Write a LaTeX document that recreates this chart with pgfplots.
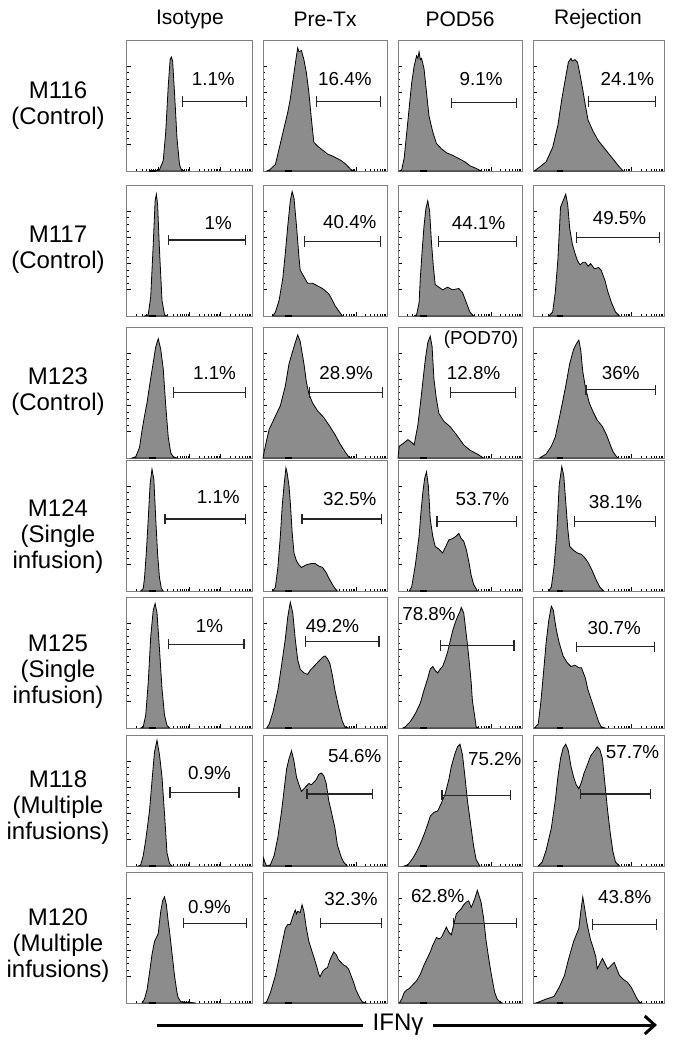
\documentclass[border=0pt]{standalone}
\usepackage{fontspec}
\setmainfont{Liberation Sans}
\usepackage{pgfplots}
\pgfplotsset{compat=1.18}
\usetikzlibrary{arrows.meta}
\definecolor{histgray}{RGB}{140,140,140}
\newcommand\pctfont{\fontsize{9.4}{11}\selectfont}
\newcommand\titlefont{\fontsize{10.5}{12}\selectfont}
\newcommand\rowfont{\fontsize{12}{13}\selectfont}
\pgfplotsset{hist/.style={scale only axis, height=65.5pt, anchor=north west,
  xmin=0, xmax=100, ymin=0, ymax=100, clip=false,
  axis line style={black!50, line width=0.5pt},
  xtick={25,50,75},
  minor xtick={7.5,11.9,15.1,17.5,19.5,21.1,22.6,23.9,32.5,36.9,40.1,42.5,44.5,46.1,47.6,48.9,57.5,61.9,65.1,67.5,69.5,71.1,72.6,73.9,82.5,86.9,90.1,92.5,94.5,96.1,97.6,98.9},
  ytick={20,40,60,80}, minor y tick num=3,
  xticklabels={}, yticklabels={},
  tick pos=left, tick align=inside,
  major tick length=2pt, minor tick length=1pt,
  tick style={black, line width=0.35pt}}}
% #1 x, #2 y, #3 width, #4 coords, #5 gate from, #6 gate to, #7 gate y, #8 text pos, #9 text
\newcommand\panel[9]{%
  \begin{axis}[hist, at={(#1pt,-#2pt)}, width=#3pt]
  \addplot[fill=histgray, draw=black, line width=0.4pt] coordinates {#4} \closedcycle;
  \addplot[black!85, line width=0.55pt, |-|] coordinates {(#5,#7) (#6,#7)};
  \node[font=\pctfont] at (axis cs:#8) {#9};
  \draw[black, line width=1.2pt] (axis cs:18,0) -- (axis cs:23,0);
  \end{axis}}
\begin{document}
\begin{tikzpicture}
\path[use as bounding box] (0,0) rectangle (338.5pt,-523pt);
% titles
\node[font=\titlefont] at (95pt,-9.5pt) {Isotype};
\node[font=\titlefont] at (162.5pt,-9.5pt) {Pre-Tx};
\node[font=\titlefont] at (230pt,-9.5pt) {POD56};
\node[font=\titlefont] at (299pt,-9.5pt) {Rejection};
% row labels
\node[align=center, font=\rowfont] at (29pt,-52.75pt) {M116\\(Control)};
\node[align=center, font=\rowfont] at (29pt,-125pt) {M117\\(Control)};
\node[align=center, font=\rowfont] at (29pt,-196pt) {M123\\(Control)};
\node[align=center, font=\rowfont] at (29pt,-268.5pt) {M124\\(Single\\infusion)};
\node[align=center, font=\rowfont] at (29pt,-336pt) {M125\\(Single\\infusion)};
\node[align=center, font=\rowfont] at (29pt,-404pt) {M118\\(Multiple\\infusions)};
\node[align=center, font=\rowfont] at (29pt,-473pt) {M120\\(Multiple\\infusions)};
% ===== Row 1 =====
\panel{63.5}{20}{62.5}{(22,0)(26,1)(29,8)(31,30)(33,65)(34.5,85)(35.5,87)(36.5,84)(38,60)(40,25)(42,5)(43.5,1)(46,0)}{44}{96}{53}{69,70}{1.1\%}
\panel{131.5}{20}{62}{(3,0)(5.5,1)(10,5)(16,29)(20,45)(22,55)(25,75)(27,88)(28,94)(29,91)(31,92)(33,85)(35,75)(37,60)(39,40)(41,22)(44,19)(48,16)(52,13)(57,11)(63,8)(67,5)(71,1)(74,0)}{43}{95}{53}{66,70}{16.4\%}
\panel{199}{20}{62}{(1,0)(3,1)(5,10)(7,29)(9,48)(11,67)(13,80)(15,88)(16,86)(17,91)(18,85)(19,86)(21,78)(23,60)(25,42)(28,30)(31,21)(35,17)(39,14)(44,12)(50,9)(54,7)(58,4)(63,2)(67,0)}{43}{96}{52}{67,70}{9.1\%}
\panel{266.5}{20}{65.5}{(1,0)(5,3)(10,7)(15,18)(19,35)(22,55)(25,72)(27,83)(29,86)(30,84)(32,85)(34,83)(36,73)(38,62)(40,50)(42,39)(46,30)(50,23)(54,18)(58,13)(62,8)(66,3)(69,0)}{42}{94}{53}{72,70}{24.1\%}
% ===== Row 2 =====
\panel{63.5}{92.5}{62.5}{(14,0)(17,1)(19,15)(21,55)(22.5,88)(23.5,93)(24.5,85)(26,50)(28,12)(30,1)(32,0)}{33}{95}{58}{73,71}{1\%}
\panel{131.5}{92.5}{62}{(8,0)(10,3)(13,12)(16,29)(18,48)(20,69)(22,88)(23.5,95)(25,90)(27,69)(29,45)(30,35)(33,30)(36,25)(40,25)(44,23)(48,21)(53,17)(56,12)(58,8)(61,4)(64,0)}{33}{95}{57}{70,72}{40.4\%}
\panel{199}{92.5}{62}{(13,0)(15,1)(17,10)(18,29)(19.5,50)(21,69)(22.5,82)(24,88)(25.5,80)(27,56)(28.5,38)(30,24)(33,22)(36,20)(40,22)(44,20)(49,21)(52,18)(54,13)(56,8)(58,3)(61,0)}{32}{96}{57}{65,71}{44.1\%}
\panel{266.5}{92.5}{65.5}{(12,0)(15,3)(17,18)(19,43)(21,83)(23,88)(25,93)(26.5,85)(28,67)(30,55)(32,48)(34,42)(36,39)(38,41)(40,41)(42,38)(44,40)(47,36)(50,37)(52,35)(55,27)(57,19)(60,10)(63,3)(66,0)}{33}{97}{60}{66,75}{49.5\%}
% ===== Row 3 =====
\panel{63.5}{163.5}{62.5}{(4,0)(7,1)(10,8)(12,21)(14,32)(16,42)(18,55)(21,73)(23,85)(25,91)(27,83)(29,68)(31,40)(33,16)(35,4)(37,1)(40,0)}{37}{95}{50}{70,65}{1.1\%}
\panel{131.5}{163.5}{62}{(0,0)(1,5)(3,14)(5,22)(9,30)(14,40)(18,55)(21,72)(25,85)(28,94)(30,89)(33,72)(35,58)(37,49)(40,42)(44,36)(49,31)(54,24)(58,18)(62,11)(66,5)(69,1)(71,0)}{37}{97}{50}{67,65}{28.9\%}
\panel{199}{163.5}{62}{(0,0)(1,9)(4,11)(8,14)(11,12)(13,10)(16,25)(18,41)(20,58)(22,75)(24,88)(26,93)(27.5,85)(29,60)(31,45)(33,34)(37,28)(42,24)(47,18)(53,10)(58,6)(64,3)(69,0)}{42}{95}{50}{61,65}{12.8\%}
\panel{266.5}{163.5}{65.5}{(5,0)(10,3)(14,9)(17,16)(21,35)(25,55)(28,72)(31,83)(33,87)(35,90)(36.5,82)(38,66)(40,54)(43,42)(46,35)(49,29)(53,24)(56,18)(59,10)(61,5)(63,2)(65,0)}{40}{94}{52}{67,65}{36\%}
\node[font=\pctfont] at (240.5pt,-170pt) {(POD70)};
% ===== Row 4 =====
\panel{63.5}{230}{62.5}{(11,0)(13,2)(14,10)(15.5,30)(17,55)(18.5,82)(20,93)(21.5,85)(23,55)(24.5,28)(26,10)(27.5,2)(29,0)}{30}{95}{55}{73,72}{1.1\%}
\panel{131.5}{230}{62}{(8,0)(10,3)(12,18)(14,42)(15.5,65)(17,81)(18.5,94)(19.5,90)(21,80)(22,68)(23.5,45)(25,29)(27,23)(29,20)(31,18)(35,20)(39,21)(42,21)(45,19)(48,18)(51,14)(53,10)(56,5)(58,2)(60,0)}{31}{96}{55}{70,70}{32.5\%}
\panel{199}{230}{62}{(9,0)(11,3)(14,20)(17,42)(18.5,60)(20,75)(21.5,86)(23,91)(24.5,80)(26,55)(28,42)(30,34)(33,32)(36,29)(38,33)(41,39)(44,40)(47,42)(49,44)(51,40)(53,38)(55,32)(57,23)(59,12)(61,5)(64,0)}{31}{96}{53}{68,70}{53.7\%}
\panel{266.5}{230}{65.5}{(12,0)(14,3)(16,18)(18,42)(20,81)(22,95)(23.5,88)(25,68)(26.5,48)(28,34)(31,31)(34,29)(37,28)(39,26)(42,22)(45,16)(48,9)(51,3)(54,0)}{31}{94}{53}{63,68}{38.1\%}
% ===== Row 5 =====
\panel{63.5}{298.5}{62.5}{(11,0)(13,1)(15,10)(17,35)(19,70)(21,90)(22.5,95)(24,88)(26,60)(28,30)(30,10)(32,2)(34,0)}{33}{94}{64}{66,78}{1\%}
\panel{131.5}{298.5}{62}{(3,0)(5,3)(8,12)(12,29)(15,48)(18,68)(20,85)(22,96)(24,88)(26,68)(28,52)(30,45)(33,42)(36,41)(38,44)(41,47)(45,51)(48,54)(50,55)(52,53)(54,49)(56,40)(58,29)(61,16)(64,5)(66,1)(69,0)}{34}{94}{66}{56,78}{49.2\%}
\panel{199}{298.5}{62}{(4,0)(6,1)(10,5)(14,11)(18,19)(21,29)(24,38)(26,45)(28,47)(30,44)(32,42)(34,45)(36,47)(38,52)(40,58)(42,66)(44,74)(46,80)(48,85)(50,89)(51,92)(53,88)(55,72)(57,55)(59,35)(60,21)(62,8)(63,1)(65,0)}{34}{94}{63}{25,87}{78.8\%}
\panel{266.5}{298.5}{65.5}{(1,0)(4,3)(6,20)(8,42)(10,65)(12,82)(14,93)(15.5,90)(17,80)(18,74)(20,65)(23,55)(26,50)(29,47)(32,48)(35,46)(37,46)(40,38)(42,29)(45,20)(48,11)(50,5)(52,1)(55,0)}{33}{93}{62}{62,76}{30.7\%}
% ===== Row 6 =====
\panel{63.5}{367.5}{62.5}{(9,0)(11,1)(13,8)(15,20)(18,42)(20,65)(22,87)(24,96)(26,85)(28,68)(30,40)(32,10)(34,2)(36,0)}{34}{90}{56}{66,71}{0.9\%}
\panel{131.5}{367.5}{62}{(0,0)(0.5,6)(1.5,3)(3,0)(6,1)(9,8)(12,22)(15,42)(17,58)(19,74)(21,82)(23,88)(25,80)(27,68)(29,62)(31,57)(33,59)(35,61)(37,63)(39,62)(41,64)(43,66)(45,70)(47,71)(49,69)(51,63)(53,50)(55,42)(58,29)(60,16)(63,7)(65,3)(68,0)}{35}{89}{55}{74,84}{54.6\%}
\panel{199}{367.5}{62}{(5,0)(8,1)(12,6)(15,11)(18,17)(21,24)(24,32)(26,38)(29,41)(32,42)(35,48)(38,55)(41,66)(43,76)(46,86)(48,91)(50,93)(52,85)(54,68)(56,50)(59,29)(61,15)(63,5)(66,0)}{35}{91}{54}{78,82}{75.2\%}
\panel{266.5}{367.5}{65.5}{(4,0)(7,3)(10,12)(14,29)(17,50)(19,68)(21,82)(23,90)(25,93)(27,88)(29,76)(31,68)(33,62)(35,59)(37,64)(39,71)(41,76)(44,84)(47,88)(49,91)(51,89)(53,82)(55,62)(57,42)(59,25)(61,11)(63,3)(66,0)}{36}{90}{55}{76,87}{57.7\%}
% ===== Row 7 =====
\panel{63.5}{436}{62.5}{(12,0)(14,3)(16,10)(18,23)(20,37)(22,47)(24,51)(25,53)(26,62)(27,70)(28.5,78)(30,81)(31.5,75)(33,62)(34,55)(36,38)(38,21)(40,8)(41,4)(43,1)(50,0.5)(55,0)}{45}{96}{61}{66,73}{0.9\%}
\panel{131.5}{436}{62}{(1,0)(3,1)(6,8)(10,21)(12,30)(14,39)(16,48)(18,57)(20,60)(22,60)(24,66)(26,71)(27,68)(28,70)(30,69)(31.5,75)(33,70)(35,57)(37,47)(40,38)(43,29)(45,22)(46,20)(48,24)(50,26)(52,27)(54,33)(57,39)(59,37)(61,33)(63,31)(65,29)(67,28)(69,26)(71,21)(73,16)(75,10)(78,4)(80,1)(83,0)}{46}{96}{61}{71,79}{32.3\%}
\panel{199}{436}{62}{(1,0)(3,3)(5,8)(7,10)(9,11)(12,14)(15,17)(18,22)(21,29)(24,35)(26,39)(28,44)(30,48)(31,50)(33,49)(35,50)(37,54)(39,58)(41,54)(43,52)(45,60)(47,68)(49,70)(51,72)(53,75)(55,77)(57,78)(59,73)(60,75)(62,80)(64,86)(66,80)(67,77)(69,65)(71,48)(73,35)(74,29)(76,18)(78,8)(80,3)(82,1)(84,0)}{44}{96}{61}{32,82}{62.8\%}
\panel{266.5}{436}{65.5}{(2,0)(5,1)(10,3)(16,5)(20,12)(24,21)(27,33)(31,47)(33,52)(35,57)(36.5,70)(38,81)(39.5,72)(41,62)(42,57)(44,48)(46,42)(48,35)(49,26)(51,30)(53,34)(55,30)(57,26)(59,28)(62,31)(64,26)(66,21)(69,18)(72,16)(75,12)(77,8)(79,4)(81,1)(83,0)}{45}{95}{60}{70,81}{43.8\%}
% bottom arrow
\draw[line width=1.5pt, -{Straight Barb[length=5pt,width=9pt,line width=1.5pt]}] (78.5pt,-512.5pt) -- (328.5pt,-512.5pt);
\node[fill=white, inner xsep=5pt, font=\fontsize{12}{14}\selectfont] at (199pt,-512.5pt) {IFNγ};
\end{tikzpicture}
\end{document}
